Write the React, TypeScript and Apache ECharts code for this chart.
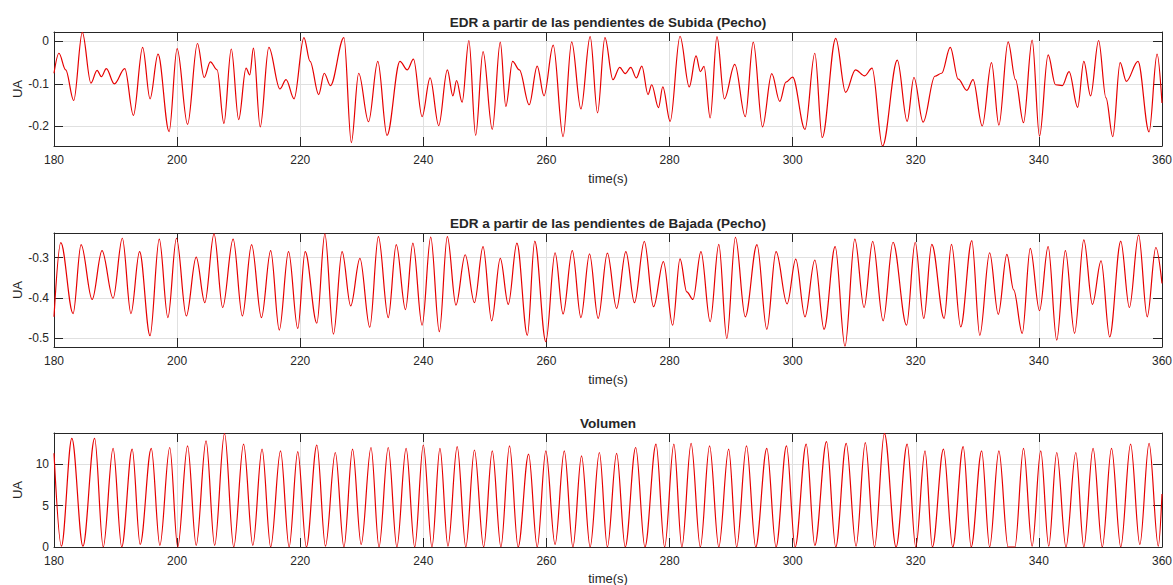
import React, { useEffect, useRef } from 'react';
import * as echarts from 'echarts';

// Shared time axis ticks (seconds)
const timeTicks = [180, 200, 220, 240, 260, 280, 300, 320, 340, 360];

// EDR from rising slopes (chest): turning points of the signal
const subidaTime = [
  180.0, 180.8, 181.9, 183.2, 184.6, 186.0, 187.0, 187.7, 188.5, 189.8,
  191.5, 192.9, 194.4, 195.6, 196.9, 198.7, 200.0, 201.7, 203.3, 204.4,
  205.4, 206.5, 207.6, 208.8, 210.0, 211.2, 211.8, 212.4, 213.5, 214.9,
  216.7, 217.7, 219.0, 220.6, 221.6, 223.0, 223.9, 224.9, 227.1, 228.3,
  229.5, 231.1, 232.6, 234.1, 236.2, 237.4, 238.4, 239.8, 241.1, 242.5,
  243.9, 244.8, 245.4, 246.3, 247.4, 248.5, 249.7, 251.2, 252.5, 253.4,
  254.5, 255.6, 257.2, 258.5, 259.6, 261.1, 262.7, 264.1, 265.6, 267.1,
  268.3, 269.5, 270.8, 271.9, 272.8, 273.7, 274.6, 275.5, 276.5, 277.1,
  278.2, 278.9, 280.1, 281.7, 283.2, 284.3, 285.0, 285.6, 286.6, 287.7,
  288.9, 290.6, 292.3, 293.6, 295.1, 296.6, 297.9, 298.9, 300.0, 302.0,
  303.6, 304.8, 307.0, 308.6, 310.2, 311.7, 312.9, 314.6, 317.0, 318.6,
  319.7, 321.2, 323.1, 324.2, 325.6, 326.9, 328.3, 329.3, 330.8, 332.3,
  333.5, 335.0, 336.2, 337.5, 338.9, 340.1, 341.5, 342.7, 343.8, 344.9,
  346.3, 347.3, 348.4, 349.7, 350.9, 352.0, 353.2, 354.2, 356.1, 357.9,
  359.2, 360.0,
];
const subidaValue = [
  -0.075, -0.028, -0.067, -0.139, 0.021, -0.098, -0.068, -0.083, -0.064, -0.1,
  -0.064, -0.174, -0.014, -0.135, -0.03, -0.212, -0.017, -0.195, -0.005, -0.085,
  -0.048, -0.067, -0.193, -0.018, -0.184, -0.063, -0.079, -0.016, -0.201, -0.014,
  -0.112, -0.09, -0.135, 0.009, -0.047, -0.125, -0.075, -0.104, 0.009, -0.238,
  -0.075, -0.189, -0.047, -0.221, -0.047, -0.067, -0.042, -0.177, -0.086, -0.198,
  -0.067, -0.128, -0.092, -0.143, 0.002, -0.221, -0.024, -0.207, -0.002, -0.153,
  -0.047, -0.067, -0.149, -0.058, -0.128, -0.009, -0.224, -0.001, -0.159, 0.011,
  -0.168, 0.009, -0.09, -0.061, -0.076, -0.061, -0.086, -0.058, -0.125, -0.102,
  -0.156, -0.107, -0.188, 0.012, -0.107, -0.034, -0.071, -0.059, -0.18, 0.011,
  -0.135, -0.054, -0.177, -0.002, -0.201, -0.076, -0.141, -0.096, -0.084, -0.207,
  -0.028, -0.226, 0.007, -0.12, -0.067, -0.081, -0.063, -0.246, -0.044, -0.188,
  -0.085, -0.19, -0.082, -0.075, -0.014, -0.089, -0.115, -0.09, -0.199, -0.05,
  -0.197, -0.001, -0.09, -0.191, 0.003, -0.223, -0.032, -0.102, -0.104, -0.071,
  -0.155, -0.047, -0.128, 0.002, -0.133, -0.224, -0.05, -0.094, -0.047, -0.213,
  -0.03, -0.145,
];
const subidaTicks = [-0.2, -0.1, 0];

// EDR from falling slopes (chest)
const bajadaTime = [
  180.0, 181.1, 183.1, 184.4, 186.2, 187.8, 189.6, 191.1, 192.5, 193.9,
  195.6, 197.1, 198.5, 199.9, 201.5, 203.1, 204.5, 206.0, 207.4, 209.1,
  210.6, 212.1, 213.7, 215.2, 216.6, 218.1, 219.6, 220.8, 222.7, 224.0,
  225.4, 226.8, 228.2, 229.7, 231.3, 232.7, 234.3, 235.6, 237.1, 238.3,
  239.8, 241.2, 242.6, 243.9, 245.3, 246.8, 248.3, 249.7, 251.1, 252.5,
  253.8, 255.2, 256.9, 258.1, 259.9, 261.4, 262.7, 264.2, 265.6, 267.0,
  268.4, 269.9, 271.4, 272.9, 274.3, 275.9, 277.4, 279.0, 280.5, 281.7,
  282.8, 283.8, 285.1, 286.6, 288.0, 289.3, 290.7, 292.3, 294.2, 295.8,
  297.3, 299.1, 300.5, 302.0, 303.6, 305.1, 306.9, 308.5, 310.1, 311.6,
  313.0, 314.7, 316.3, 318.5, 319.9, 321.3, 322.6, 324.6, 325.8, 327.3,
  329.1, 330.4, 332.0, 333.4, 334.8, 335.9, 337.3, 338.6, 340.1, 341.5,
  342.9, 344.3, 345.8, 347.3, 348.7, 350.1, 351.5, 353.3, 354.7, 356.2,
  357.6, 359.0, 360.0,
];
const bajadaValue = [
  -0.447, -0.263, -0.439, -0.268, -0.404, -0.283, -0.401, -0.252, -0.439, -0.285,
  -0.494, -0.254, -0.449, -0.252, -0.445, -0.299, -0.412, -0.241, -0.424, -0.254,
  -0.445, -0.268, -0.449, -0.283, -0.48, -0.285, -0.476, -0.285, -0.463, -0.241,
  -0.49, -0.285, -0.42, -0.302, -0.473, -0.248, -0.449, -0.268, -0.429, -0.264,
  -0.468, -0.249, -0.484, -0.248, -0.418, -0.293, -0.412, -0.273, -0.457, -0.302,
  -0.416, -0.264, -0.493, -0.259, -0.509, -0.288, -0.44, -0.283, -0.449, -0.291,
  -0.451, -0.289, -0.426, -0.285, -0.412, -0.26, -0.422, -0.31, -0.468, -0.303,
  -0.385, -0.404, -0.285, -0.459, -0.267, -0.501, -0.25, -0.447, -0.268, -0.478,
  -0.285, -0.415, -0.304, -0.447, -0.306, -0.478, -0.273, -0.52, -0.254, -0.424,
  -0.26, -0.457, -0.262, -0.468, -0.262, -0.451, -0.267, -0.451, -0.267, -0.472,
  -0.258, -0.493, -0.288, -0.441, -0.292, -0.38, -0.488, -0.277, -0.432, -0.273,
  -0.505, -0.283, -0.488, -0.256, -0.416, -0.308, -0.497, -0.259, -0.424, -0.244,
  -0.447, -0.275, -0.364,
];
const bajadaTicks = [-0.5, -0.4, -0.3];

// Volume
const volumenTime = [
  180.0, 181.2, 182.9, 184.7, 186.6, 188.0, 189.6, 191.0, 192.7, 194.0,
  195.8, 197.2, 198.8, 200.1, 201.7, 203.1, 204.7, 206.1, 207.7, 209.2,
  210.8, 212.3, 213.8, 215.2, 216.8, 218.2, 219.6, 221.0, 222.7, 224.1,
  225.7, 227.1, 228.5, 229.9, 231.5, 232.8, 234.3, 235.7, 237.2, 238.6,
  240.0, 241.4, 242.7, 244.0, 245.5, 246.9, 248.3, 249.8, 251.2, 252.6,
  254.0, 255.4, 257.1, 258.5, 259.9, 261.4, 262.9, 264.3, 265.7, 267.1,
  268.6, 269.9, 271.4, 272.8, 274.5, 276.0, 277.8, 279.2, 280.7, 282.0,
  283.5, 285.0, 286.5, 288.0, 289.6, 290.9, 292.5, 294.0, 295.8, 297.3,
  299.0, 300.4, 302.2, 303.6, 305.5, 307.0, 308.7, 310.3, 311.8, 313.3,
  314.9, 316.8, 318.6, 320.0, 321.5, 322.7, 324.5, 326.0, 327.7, 329.0,
  330.7, 332.0, 333.5, 335.0, 336.1, 337.5, 338.9, 340.3, 341.6, 342.9,
  344.4, 346.0, 347.3, 348.8, 350.3, 351.8, 353.3, 354.9, 356.4, 357.9,
  359.4, 360.0,
];
const volumenValue = [
  11.3, 0.1, 13.1, 0.1, 13.1, 0.0, 11.9, 0.0, 11.8, 0.3,
  11.9, 0.2, 12.0, 0.0, 12.2, 0.2, 12.8, 0.2, 13.7, 0.0,
  12.4, 0.2, 11.8, 0.0, 11.6, 0.0, 11.5, 0.0, 12.3, 0.1,
  11.4, 0.0, 11.8, 0.3, 12.0, 0.0, 12.0, 0.0, 11.9, 0.0,
  12.3, 0.0, 11.9, 0.1, 12.1, 0.0, 11.7, 0.0, 11.6, 0.0,
  12.2, 0.0, 11.2, 0.0, 11.6, 0.3, 11.6, 0.0, 11.0, 0.0,
  11.4, 0.0, 11.3, 0.0, 12.0, 0.0, 12.4, 0.0, 12.4, 0.0,
  12.5, 0.0, 12.2, 0.0, 11.8, 0.0, 12.2, 0.0, 11.9, 0.0,
  12.2, 0.0, 12.4, 0.2, 12.7, 0.0, 12.5, 0.1, 12.6, 0.0,
  13.7, 0.0, 12.4, 0.0, 11.6, 0.0, 11.8, 0.0, 12.1, 0.0,
  11.6, 0.0, 11.6, 0.0, 0.0, 11.9, 0.1, 11.6, 0.1, 11.4,
  0.0, 11.4, 0.0, 11.9, 0.0, 11.9, 0.0, 12.4, 0.3, 12.5,
  0.1, 6.4,
];
const volumenTicks = [0, 5, 10];

const panels = [
  {
    title: 'EDR a partir de las pendientes de Subida (Pecho)',
    time: subidaTime,
    value: subidaValue,
    ticks: subidaTicks,
    min: -0.246,
    max: 0.022,
  },
  {
    title: 'EDR a partir de las pendientes de Bajada (Pecho)',
    time: bajadaTime,
    value: bajadaValue,
    ticks: bajadaTicks,
    min: -0.522,
    max: -0.239,
  },
  {
    title: 'Volumen',
    time: volumenTime,
    value: volumenValue,
    ticks: volumenTicks,
    min: 0,
    max: 13.75,
  },
];

const FONT = '"Liberation Sans", Arial, Helvetica, sans-serif';
const INK = '#262626';
const GRID_COLOR = '#e0e0e0';
const LINE_COLOR = '#e60000';

const GRID_LEFT = 54;
const GRID_RIGHT = 11;
const GRID_HEIGHT = 114;
const GRID_TOPS = [32, 233, 433];
const TITLE_Y = [22.5, 223.5, 423];
const PLOT_CENTER_X = 608;

function buildOption() {
  const boxLine = { show: true, onZero: false, lineStyle: { color: INK, width: 1 } };
  const innerTick = { show: true, inside: true, length: 9, lineStyle: { color: INK, width: 1 } };

  return {
    animation: false,
    backgroundColor: '#ffffff',
    grid: panels.map((_, i) => ({
      left: GRID_LEFT,
      right: GRID_RIGHT,
      top: GRID_TOPS[i],
      height: GRID_HEIGHT,
      containLabel: false,
      outerBoundsMode: 'none',
    })),
    xAxis: panels.flatMap((_, i) => [
      {
        type: 'value',
        gridIndex: i,
        position: 'bottom',
        min: timeTicks[0],
        max: timeTicks[timeTicks.length - 1],
        interval: 20,
        name: 'time(s)',
        nameLocation: 'middle',
        nameGap: i === 2 ? 25 : 26,
        nameMoveOverlap: false,
        nameTextStyle: { fontFamily: FONT, fontSize: 13, color: INK },
        axisLine: boxLine,
        axisTick: innerTick,
        axisLabel: { fontFamily: FONT, fontSize: 12, color: INK, margin: 8 },
        splitLine: { show: true, lineStyle: { color: GRID_COLOR, width: 1 } },
      },
      {
        type: 'value',
        gridIndex: i,
        position: 'top',
        min: timeTicks[0],
        max: timeTicks[timeTicks.length - 1],
        interval: 20,
        axisLine: boxLine,
        axisTick: innerTick,
        axisLabel: { show: false },
        splitLine: { show: false },
      },
    ]),
    yAxis: panels.flatMap((p, i) => [
      {
        type: 'value',
        gridIndex: i,
        position: 'left',
        min: p.min,
        max: p.max,
        splitNumber: 2,
        name: 'UA',
        nameLocation: 'middle',
        nameGap: 30,
        nameMoveOverlap: false,
        nameTextStyle: { fontFamily: FONT, fontSize: 13, color: INK },
        axisLine: boxLine,
        axisTick: { ...innerTick, customValues: p.ticks },
        axisLabel: {
          fontFamily: FONT,
          fontSize: 12,
          color: INK,
          margin: 5,
          customValues: p.ticks,
        },
        splitLine: { show: true, lineStyle: { color: GRID_COLOR, width: 1 } },
      },
      {
        type: 'value',
        gridIndex: i,
        position: 'right',
        min: p.min,
        max: p.max,
        splitNumber: 2,
        axisLine: boxLine,
        axisTick: { ...innerTick, customValues: p.ticks },
        axisLabel: { show: false },
        splitLine: { show: false },
      },
    ]),
    series: panels.map((p, i) => ({
      type: 'line',
      xAxisIndex: 2 * i,
      yAxisIndex: 2 * i,
      data: p.time.map((t, k) => [t, p.value[k]]),
      showSymbol: false,
      symbol: 'none',
      smooth: 0.35,
      smoothMonotone: 'x',
      silent: true,
      lineStyle: { color: LINE_COLOR, width: 1.2 },
      itemStyle: { color: LINE_COLOR },
      z: 3,
    })),
    graphic: panels.map((p, i) => ({
      type: 'text',
      x: PLOT_CENTER_X,
      y: TITLE_Y[i],
      silent: true,
      style: {
        text: p.title,
        fill: INK,
        fontFamily: FONT,
        fontSize: 13.5,
        fontWeight: 'bold',
        align: 'center',
        verticalAlign: 'middle',
        textAlign: 'center',
        textVerticalAlign: 'middle',
      },
    })),
  };
}

export default function App() {
  const ref = useRef<HTMLDivElement>(null);

  useEffect(() => {
    if (!ref.current) return;
    const chart = echarts.init(ref.current, undefined, { renderer: 'svg' });
    chart.setOption(buildOption() as any);
    return () => {
      chart.dispose();
    };
  }, []);

  return (
    <div
      ref={ref}
      style={{ position: 'absolute', left: 0, top: 0, width: 1173, height: 585, background: '#fff' }}
    />
  );
}
